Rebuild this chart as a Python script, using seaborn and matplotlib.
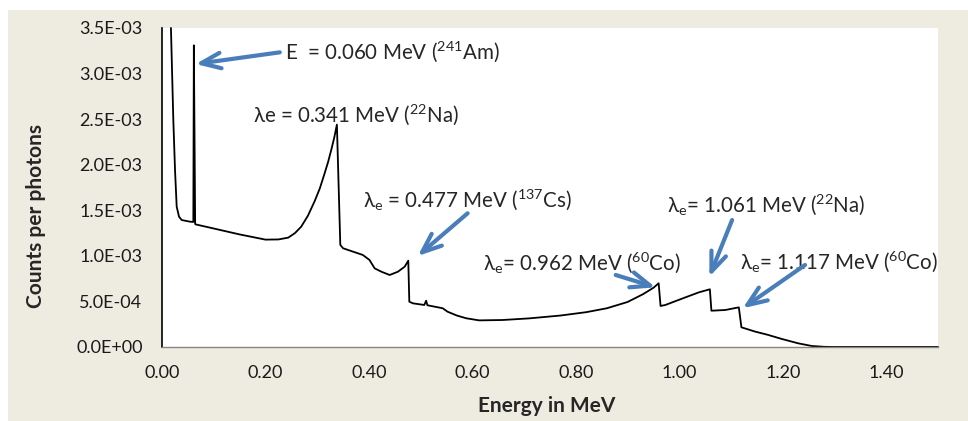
import numpy as np
import pandas as pd
import matplotlib
matplotlib.use("Agg")
import matplotlib.pyplot as plt
import seaborn as sns
from matplotlib.patches import Rectangle
from matplotlib.ticker import FuncFormatter, MultipleLocator

# spectrum (energy in MeV, counts per photon)
energy = [0.0172, 0.0218, 0.0251, 0.0283, 0.0328, 0.0380, 0.0540, 0.0605, 0.0615,
          0.0640, 0.0650, 0.100, 0.150, 0.200, 0.225, 0.244, 0.257, 0.269, 0.282,
          0.295, 0.305, 0.314, 0.321, 0.327, 0.333, 0.338, 0.3446, 0.350, 0.388,
          0.401, 0.411, 0.424, 0.440, 0.456, 0.469, 0.476, 0.478, 0.485, 0.507,
          0.5105, 0.513, 0.5425, 0.552, 0.570, 0.588, 0.613, 0.658, 0.710, 0.770,
          0.820, 0.860, 0.900, 0.930, 0.950, 0.960, 0.9637, 0.973, 1.012, 1.038,
          1.059, 1.062, 1.089, 1.115, 1.120, 1.147, 1.170, 1.200, 1.230, 1.256,
          1.280, 1.295, 1.500]
counts = [3.50e-3, 2.49e-3, 1.94e-3, 1.54e-3, 1.43e-3, 1.393e-3, 1.375e-3, 1.372e-3, 3.31e-3,
          1.35e-3, 1.345e-3, 1.30e-3, 1.235e-3, 1.178e-3, 1.180e-3, 1.20e-3, 1.25e-3, 1.32e-3, 1.44e-3,
          1.60e-3, 1.74e-3, 1.90e-3, 2.03e-3, 2.16e-3, 2.30e-3, 2.44e-3, 1.12e-3, 1.083e-3, 1.01e-3,
          0.955e-3, 0.863e-3, 0.826e-3, 0.790e-3, 0.826e-3, 0.881e-3, 0.947e-3, 0.497e-3, 0.479e-3, 0.461e-3,
          0.508e-3, 0.458e-3, 0.425e-3, 0.387e-3, 0.345e-3, 0.315e-3, 0.292e-3, 0.296e-3, 0.314e-3, 0.345e-3,
          0.382e-3, 0.425e-3, 0.494e-3, 0.580e-3, 0.650e-3, 0.699e-3, 0.450e-3, 0.461e-3, 0.545e-3, 0.600e-3,
          0.633e-3, 0.398e-3, 0.406e-3, 0.435e-3, 0.216e-3, 0.168e-3, 0.135e-3, 0.085e-3, 0.040e-3, 0.011e-3,
          0.002e-3, 0.0, 0.0]

xticks = [0.0, 0.2, 0.4, 0.6, 0.8, 1.0, 1.2, 1.4]

df = pd.DataFrame({"Energy": energy, "Counts": counts})

sns.set_style("white")
plt.rcParams['font.family'] = ['Lato', 'DejaVu Sans']
plt.rcParams['mathtext.fontset'] = 'custom'
plt.rcParams['mathtext.rm'] = 'Lato'
plt.rcParams['mathtext.default'] = 'regular'

fig = plt.figure(figsize=(9.68, 4.21), dpi=100, facecolor="white")
# beige chart-area background
fig.patches.append(Rectangle((8 / 968, 0), 1, (421 - 10) / 421, transform=fig.transFigure,
                             facecolor="#EEECE1", edgecolor="none", zorder=-10))
ax = fig.add_axes([0.1674, 0.1758, 0.8016, 0.7577])
ax.set_facecolor("white")

sns.lineplot(data=df, x="Energy", y="Counts", sort=False, estimator=None,
             color="black", linewidth=1.3, ax=ax, clip_on=False)

ax.set_xlim(0, 1.5)
ax.set_ylim(0, 3.5e-3)
ax.set_xticks(xticks)
ax.xaxis.set_major_formatter(FuncFormatter(lambda v, p: f"{v:.2f}"))
ax.yaxis.set_major_locator(MultipleLocator(5e-4))
ax.yaxis.set_major_formatter(FuncFormatter(lambda v, p: f"{v:.1E}"))

for s in ["top", "right"]:
    ax.spines[s].set_visible(False)
ax.spines["left"].set_color("black")
ax.spines["left"].set_linewidth(1.2)
ax.spines["bottom"].set_color("#868686")
ax.spines["bottom"].set_linewidth(1.0)
ax.tick_params(axis="both", direction="out", length=5, width=1, color="#868686",
               labelsize=13, labelcolor="#1a1a1a")
ax.tick_params(axis="y", pad=9)
ax.tick_params(axis="x", pad=8)

ax.set_xlabel("Energy in MeV", fontsize=15, fontweight="bold", va="center")
ax.set_ylabel("Counts per photons", fontsize=15, fontweight="bold", va="center")
ax.xaxis.set_label_coords(0.4957, -0.185)
ax.yaxis.set_label_coords(-0.162, 0.41)

fs = 14.8
blue = "#4A7EBB"
ax.text(0.237, 3.237e-3, r"E  = 0.060 MeV ($^{241}$Am)", fontsize=fs, va="center")
ax.text(0.1755, 2.545e-3, r"λe = 0.341 MeV ($^{22}$Na)", fontsize=fs, va="center")
ax.text(0.3877, 1.613e-3, r"λ$_{e}$ = 0.477 MeV ($^{137}$Cs)", fontsize=fs, va="center")
ax.text(0.6197, 0.922e-3, r"λ$_{e}$= 0.962 MeV ($^{60}$Co)", fontsize=fs, va="center")
ax.text(0.976, 1.558e-3, r"λ$_{e}$= 1.061 MeV ($^{22}$Na)", fontsize=fs, va="center")
ax.text(1.118, 0.936e-3, r"λ$_{e}$= 1.117 MeV ($^{60}$Co)", fontsize=fs, va="center")

arrows = [((0.2276, 3.233e-3), (0.065, 3.105e-3)),
          ((0.5907, 1.467e-3), (0.4943, 0.998e-3)),
          ((0.877, 0.790e-3), (0.954, 0.655e-3)),
          ((1.102, 1.393e-3), (1.058, 0.771e-3)),
          ((1.243, 0.900e-3), (1.1225, 0.425e-3))]
for tail, tip in arrows:
    ax.annotate("", xy=tip, xytext=tail,
                arrowprops=dict(arrowstyle="->,head_length=0.7,head_width=0.28",
                                mutation_scale=20, color=blue, lw=3.0,
                                shrinkA=0, shrinkB=0))

fig.savefig("out.png", dpi=100, facecolor="white")
